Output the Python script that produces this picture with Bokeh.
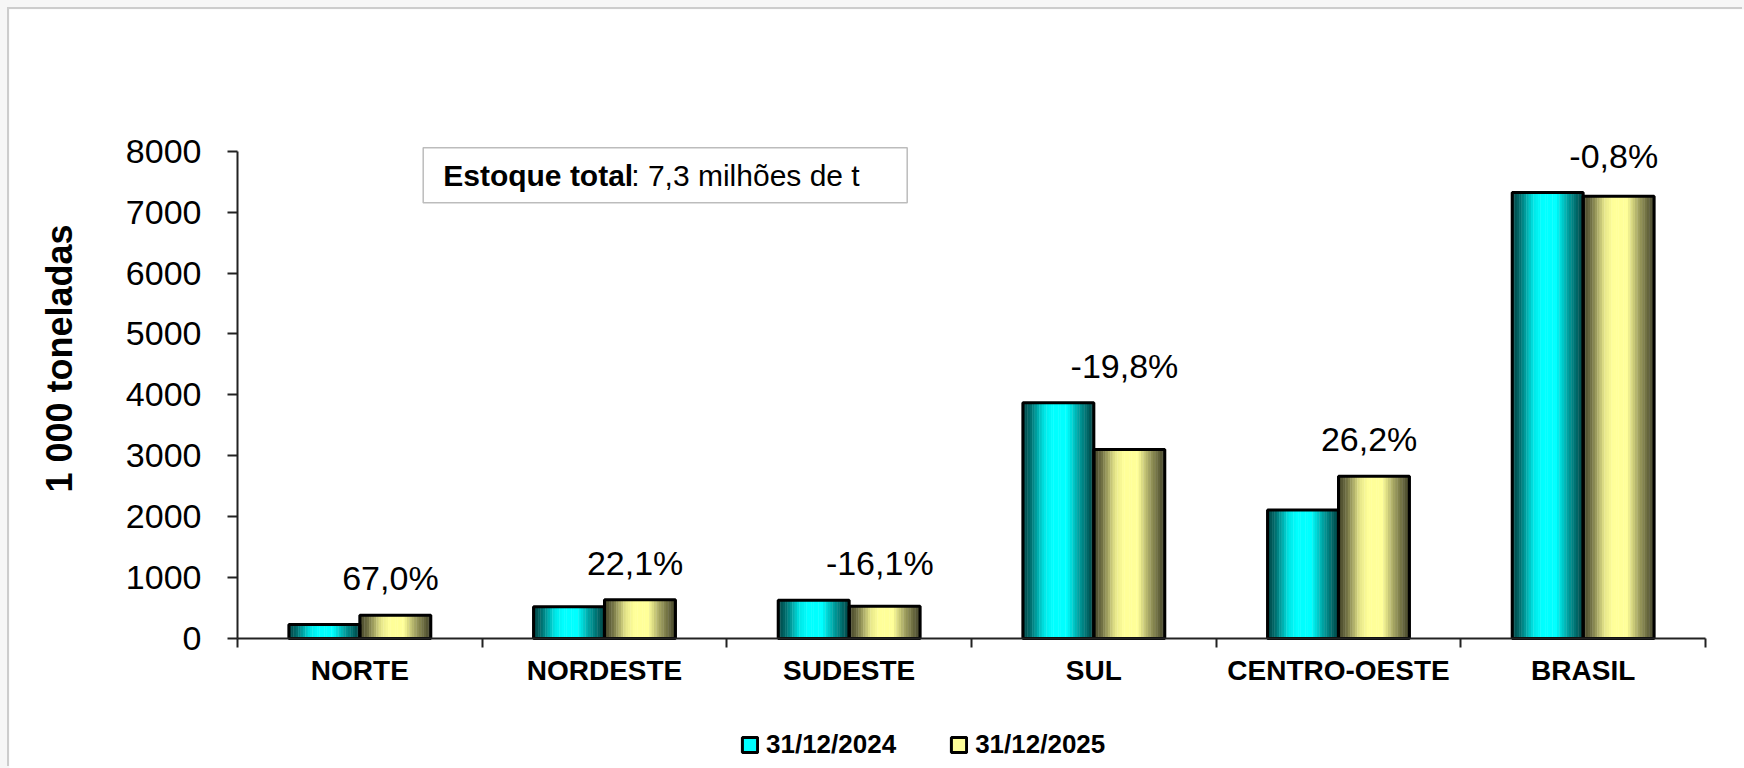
import numpy as np
from bokeh.plotting import figure
from bokeh.models import (ColumnDataSource, FixedTicker, Range1d, Legend, LegendItem,
                          Label, BoxAnnotation)
from bokeh.layouts import column
from bokeh.embed import file_html
from bokeh.resources import INLINE
from bokeh.core.properties import value

# --- data -------------------------------------------------------------
regions = ["NORTE", "NORDESTE", "SUDESTE", "SUL", "CENTRO-OESTE", "BRASIL"]
stock_2024 = [228, 520, 629, 3870, 2110, 7320]   # 1 000 t
stock_2025 = [381, 635, 528, 3104, 2663, 7261]   # 1 000 t
change_labels = ["67,0%", "22,1%", "-16,1%", "-19,8%", "26,2%", "-0,8%"]
series_names = ["31/12/2024", "31/12/2025"]
y_ticks = [0, 1000, 2000, 3000, 4000, 5000, 6000, 7000, 8000]
y_max = 8000

# --- geometry (pixels on the canvas) -----------------------------------
W, H = 1735, 759
axis_left_px, axis_right_px = 228, 1696     # category axis span
zero_px, top_px = 629, 141.7                # y = 0 and y = y_max, from the top
n_cat = len(regions)

x_ppu = (axis_right_px - axis_left_px) / n_cat
y_ppu = (zero_px - top_px) / y_max
x_range = Range1d(-axis_left_px / x_ppu, n_cat + (W - axis_right_px) / x_ppu)
y_range = Range1d(-(H - zero_px) / y_ppu, y_max + top_px / y_ppu)

p = figure(width=W, height=H, output_backend="svg", toolbar_location=None,
           x_range=x_range, y_range=y_range, min_border=0)
p.outline_line_color = None
p.xgrid.visible = False
p.ygrid.visible = False
p.background_fill_color = "white"
p.border_fill_color = "white"

# --- gradient-shaded bars ----------------------------------------------
bar_w = 0.29
n_strips = 30
stops_t = [0.0, 0.12, 0.3, 0.42, 0.62, 0.8, 1.0]
stops_f = [0.25, 0.45, 0.9, 1.0, 1.0, 0.6, 0.25]
bases = [(0, 255, 255), (255, 255, 153)]

def shade(rgb, t):
    f = np.interp(t, stops_t, stops_f)
    return "#%02x%02x%02x" % tuple(int(round(c * f)) for c in rgb)

strip = dict(x=[], top=[], color=[])
for s, vals in enumerate([stock_2024, stock_2025]):
    for i, v in enumerate(vals):
        left = i + 0.5 + (s - 1) * bar_w
        for k in range(n_strips):
            t = (k + 0.5) / n_strips
            strip["x"].append(left + t * bar_w)
            strip["top"].append(v)
            strip["color"].append(shade(bases[s], t))
p.vbar(x="x", top="top", width=bar_w / n_strips * 1.15, bottom=0,
       fill_color="color", line_color=None, source=ColumnDataSource(strip))

for s, vals in enumerate([stock_2024, stock_2025]):
    xs = [i + 0.5 + (s - 0.5) * bar_w for i in range(n_cat)]
    p.vbar(x=xs, top=vals, bottom=0, width=bar_w, fill_color=None,
           line_color="black", line_width=3)

# --- change labels ----------------------------------------------------
lab_x = [i + 0.5 + 0.125 for i in range(n_cat)]
lab_y = [max(a, b) for a, b in zip(stock_2024, stock_2025)]
p.text(x=lab_x, y=lab_y, text=change_labels, y_offset=-37,
       text_align="center", text_baseline="middle",
       text_font=value("Liberation Sans"), text_font_size="34px", text_color="black")

# --- axes (pinned at the data origin) ---------------------------------
ax = p.xaxis[0]
ax.fixed_location = 0
ax.ticker = FixedTicker(ticks=[i + 0.5 for i in range(n_cat)],
                        minor_ticks=list(range(n_cat + 1)))
ax.major_label_overrides = {i + 0.5: r for i, r in enumerate(regions)}
ax.bounds = (0, n_cat)
ax.axis_line_color = "#222222"
ax.axis_line_width = 2
ax.major_tick_line_color = None
ax.major_tick_out = 0
ax.major_tick_in = 0
ax.minor_tick_line_color = "#222222"
ax.minor_tick_line_width = 2
ax.minor_tick_out = 9
ax.minor_tick_in = 0
ax.major_label_standoff = 7
ax.major_label_text_font = "Liberation Sans"
ax.major_label_text_font_style = "bold"
ax.major_label_text_font_size = "28px"
ax.major_label_text_color = "black"

ay = p.yaxis[0]
ay.fixed_location = 0
ay.ticker = FixedTicker(ticks=y_ticks, minor_ticks=[])
ay.bounds = (0, y_max)
ay.axis_line_color = "#222222"
ay.axis_line_width = 2
ay.major_tick_line_color = "#222222"
ay.major_tick_line_width = 2
ay.major_tick_out = 10
ay.major_tick_in = 0
ay.minor_tick_line_color = None
ay.major_label_standoff = 26
ay.major_label_text_font = "Liberation Sans"
ay.major_label_text_font_size = "34px"
ay.major_label_text_color = "black"

# y-axis title
p.add_layout(Label(x=50, y=H - 349, x_units="screen", y_units="screen",
                   text="1 000 toneladas", angle=np.pi / 2,
                   text_font="Liberation Sans", text_font_style="bold",
                   text_font_size="36px", text_align="center", text_baseline="middle",
                   text_color="black"))

# --- stock note box -----------------------------------------------------
p.add_layout(BoxAnnotation(left=413.7, right=897.7, bottom=H - 193.3, top=H - 138.3,
                           left_units="screen", right_units="screen",
                           bottom_units="screen", top_units="screen",
                           fill_color="white", fill_alpha=1.0,
                           line_color="#222222", line_width=1.5))
note_font = 30
note_x, note_y = 433.7, H - 165.8
p.add_layout(Label(x=note_x, y=note_y, x_units="screen", y_units="screen",
                   text="Estoque total", text_font="Liberation Sans", text_font_style="bold",
                   text_font_size=f"{note_font}px", text_baseline="middle", text_color="black"))
p.add_layout(Label(x=note_x + 6.268 * note_font, y=note_y, x_units="screen", y_units="screen",
                   text=": 7,3 milhões de t", text_font="Liberation Sans",
                   text_font_size=f"{note_font}px", text_baseline="middle", text_color="black"))

# --- legend ---------------------------------------------------------------
# swatch renderers hold a single NaN point, so only the legend shows them
swatches = []
for col in ["#00ffff", "#ffff99"]:
    swatches.append(p.vbar(x=np.array([np.nan]), top=np.array([np.nan]), width=0.1,
                           fill_color=col, line_color="black", line_width=3))
legend = Legend(items=[LegendItem(label=n, renderers=[r]) for n, r in zip(series_names, swatches)],
                orientation="horizontal", location=(731, 8),
                glyph_width=19, glyph_height=19, label_standoff=7, spacing=53,
                padding=0, margin=0, border_line_color=None, background_fill_alpha=0,
                label_text_font="Liberation Sans", label_text_font_style="bold",
                label_text_font_size="26px", label_text_color="black")
p.add_layout(legend)

p.margin = (9, 0, 0, 9)
p.styles = {"box-shadow": "-2px -2px 0px #cccccc"}
page = column(p, styles={"background-color": "#f6f6f6"})

open("out.html", "w").write(file_html(page, INLINE))
